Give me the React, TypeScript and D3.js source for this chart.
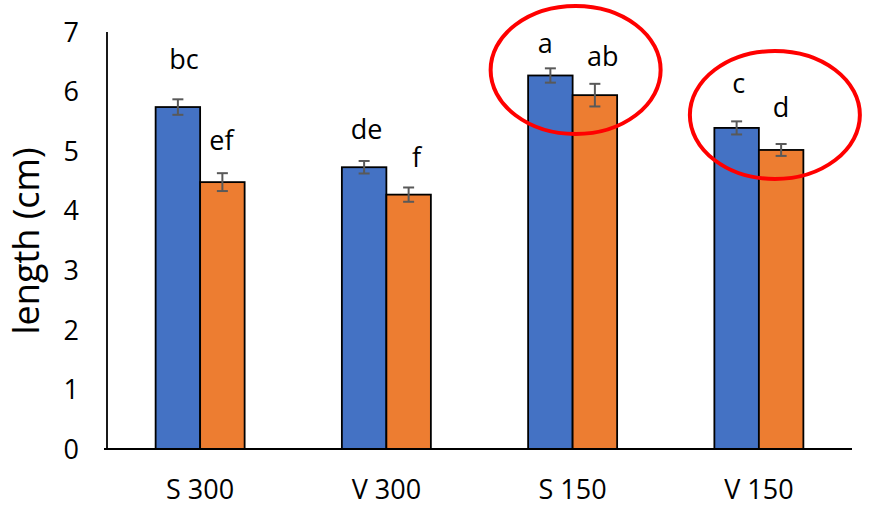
import React from "react";
import * as d3 from "d3";

const categories = ["S 300", "V 300", "S 150", "V 150"];
const seriesNames = ["A", "B"];
const seriesA = [5.74, 4.73, 6.27, 5.39];
const seriesB = [4.48, 4.27, 5.94, 5.02];
const errorsA = [0.13, 0.105, 0.12, 0.11];
const errorsB = [0.15, 0.12, 0.19, 0.1];
const lettersA = ["bc", "de", "a", "c"];
const lettersB = ["ef", "f", "ab", "d"];
const yTicks = [0, 1, 2, 3, 4, 5, 6, 7];
const highlighted = ["S 150", "V 150"];

// layout-only tweaks for hand-placed annotations (pixels)
const letterOffsetsA = [
  [6, 38],
  [2.5, 28],
  [-5, 22],
  [2, 35],
];
const letterOffsetsB = [
  [-1, 32],
  [8, 28],
  [8, 29],
  [0, 33],
];
const ellipseLayout = [
  { dx: 3, cy: 70, rx: 85, ry: 64 },
  { dx: 16, cy: 115, rx: 85, ry: 64 },
];

const W = 871;
const H = 512;
const COLORS = ["#4472C4", "#ED7D31"];
const FONT = "'Open Sans', 'Noto Sans', sans-serif";

export default function App() {
  const x = d3.scaleBand<string>().domain(categories).range([107, 852]).padding(0);
  const groupW = 89;
  const xs = d3
    .scaleBand<string>()
    .domain(seriesNames)
    .range([-groupW / 2, groupW / 2])
    .padding(0);
  const y = d3.scaleLinear().domain([0, 7]).range([449, 32]);

  const series = [
    { name: "A", values: seriesA, errors: errorsA, letters: lettersA, offs: letterOffsetsA },
    { name: "B", values: seriesB, errors: errorsB, letters: lettersB, offs: letterOffsetsB },
  ];

  return (
    <svg
      width={W}
      height={H}
      style={{ position: "absolute", left: 0, top: 0, background: "#fff" }}
      fontFamily={FONT}
    >
      <rect x={0} y={0} width={W} height={H} fill="#fff" />
      {/* bars */}
      {series.map((s, si) =>
        categories.map((c, ci) => {
          const cx = (x(c) as number) + x.bandwidth() / 2;
          const bx = cx + (xs(s.name) as number);
          const bw = xs.bandwidth();
          const v = s.values[ci];
          return (
            <rect
              key={`b${si}-${ci}`}
              x={bx}
              y={y(v)}
              width={bw}
              height={y(0) - y(v)}
              fill={COLORS[si]}
              stroke="#000"
              strokeWidth={1.8}
            />
          );
        })
      )}
      {/* error bars */}
      {series.map((s, si) =>
        categories.map((c, ci) => {
          const cx = (x(c) as number) + x.bandwidth() / 2;
          const mx = cx + (xs(s.name) as number) + xs.bandwidth() / 2;
          const v = s.values[ci];
          const e = s.errors[ci];
          const y1 = y(v + e);
          const y2 = y(v - e);
          return (
            <g key={`e${si}-${ci}`} stroke="#595959" strokeWidth={2}>
              <line x1={mx} x2={mx} y1={y1} y2={y2} />
              <line x1={mx - 5.5} x2={mx + 5.5} y1={y1} y2={y1} />
              <line x1={mx - 5.5} x2={mx + 5.5} y1={y2} y2={y2} />
            </g>
          );
        })
      )}
      {/* axes */}
      <line x1={107} x2={107} y1={y(7)} y2={y(0)} stroke="#000" strokeWidth={1.8} />
      <line x1={104} x2={852} y1={y(0)} y2={y(0)} stroke="#000" strokeWidth={2} />
      {yTicks.map((t) => (
        <text
          key={`t${t}`}
          x={79}
          y={y(t)}
          dy="0.36em"
          textAnchor="end"
          fontSize={27}
          fill="#000"
        >
          {t}
        </text>
      ))}
      {categories.map((c) => (
        <text
          key={`c${c}`}
          x={(x(c) as number) + x.bandwidth() / 2}
          y={499}
          textAnchor="middle"
          fontSize={27}
          fill="#000"
        >
          {c}
        </text>
      ))}
      <text
        transform={`translate(39,241) rotate(-90)`}
        textAnchor="middle"
        fontSize={36}
        fill="#000"
      >
        length (cm)
      </text>
      {/* letters */}
      {series.map((s, si) =>
        categories.map((c, ci) => {
          const cx = (x(c) as number) + x.bandwidth() / 2;
          const mx = cx + (xs(s.name) as number) + xs.bandwidth() / 2;
          const [dx, dy] = s.offs[ci];
          return (
            <text
              key={`l${si}-${ci}`}
              x={mx + dx}
              y={y(s.values[ci]) - dy}
              textAnchor="middle"
              fontSize={27}
              fill="#000"
            >
              {s.letters[ci]}
            </text>
          );
        })
      )}
      {/* highlight ellipses */}
      {highlighted.map((c, i) => {
        const cx = (x(c) as number) + x.bandwidth() / 2 + ellipseLayout[i].dx;
        return (
          <ellipse
            key={`h${c}`}
            cx={cx}
            cy={ellipseLayout[i].cy}
            rx={ellipseLayout[i].rx}
            ry={ellipseLayout[i].ry}
            fill="none"
            stroke="#FF0000"
            strokeWidth={4}
          />
        );
      })}
    </svg>
  );
}
